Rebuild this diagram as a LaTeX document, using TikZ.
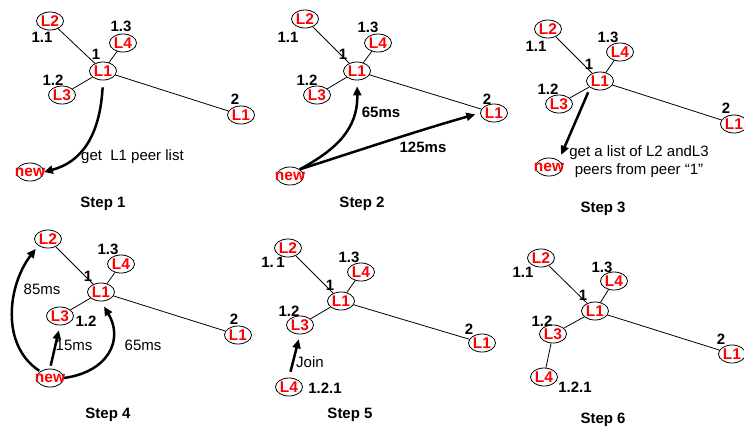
\documentclass[tikz,border=0pt]{standalone}
\usepackage{fontspec}
\setmainfont{Liberation Sans}
\usetikzlibrary{shapes.geometric,arrows.meta}
\tikzset{
  peertext/.style={text=red, font=\bfseries\fontsize{15.5}{15.5}\selectfont, inner sep=0pt},
  peer/.style={ellipse, draw, line width=0.8pt, minimum width=27pt, minimum height=18pt,
    inner sep=0pt, label={[peertext]center:#1}},
  lab/.style={font=\bfseries\fontsize{15}{15}\selectfont, inner sep=0pt},
  note/.style={font=\fontsize{15}{18}\selectfont, inner sep=0pt, align=center},
  steplabel/.style={font=\bfseries\fontsize{15}{15}\selectfont, inner sep=0pt},
  link/.style={line width=0.8pt},
  flow/.style={line width=2.5pt, -{Triangle[length=9pt,width=8pt]}},
}
\begin{document}
\begin{tikzpicture}[x=1pt,y=-1pt]
\useasboundingbox (0,0) rectangle (744,429);

% ---------- Step 1 ----------
\node[peer=L2] (a2) at (50,21) {};
\node[peer=L4] (a4) at (123,43) {};
\node[peer=L1] (a1) at (103,71) {};
\node[peer=L3] (a3) at (62,95) {};
\node[peer=L1] (ar) at (241,115) {};
\node[peer=new] (an) at (30,172) {};
\draw[link] (a2) -- (a1);
\draw[link] (a4) -- (a1);
\draw[link] (a3) -- (a1);
\draw[link] (a1) -- (ar);
\node[lab] (a11) at (42,37) {1.1};
\node[lab] (a13) at (121,26) {1.3};
\node[lab] (a1l) at (96,54) {1};
\node[lab] (a12) at (53,80) {1.2};
\node[lab] (a2l) at (235,99) {2};
\draw[flow, shorten <=7pt] (a1.south) .. controls (100,135) and (82,162) .. (an.east);
\node[note, anchor=west] (atx) at (81,157) {get\ \ L1 peer list};
\node[steplabel] (s1) at (103,204) {Step 1};

% ---------- Step 2 ----------
\node[peer=L2] (b2) at (305,19) {};
\node[peer=L4] (b4) at (378,43) {};
\node[peer=L1] (b1) at (357,71) {};
\node[peer=L3] (b3) at (317,95) {};
\node[peer=L1] (br) at (494,113) {};
\node[peer=new] (bn) at (290,176) {};
\draw[link] (b2) -- (b1);
\draw[link] (b4) -- (b1);
\draw[link] (b3) -- (b1);
\draw[link] (b1) -- (br);
\node[lab] (b11) at (288,37) {1.1};
\node[lab] (b13) at (368,27) {1.3};
\node[lab] (b1l) at (343,54) {1};
\node[lab] (b12) at (307,80) {1.2};
\node[lab] (b2l) at (487,99) {2};
\draw[flow, shorten >=6pt] (bn.north east) .. controls (335,150) and (358,130) .. (b1.south);
\draw[flow, shorten >=5pt] (bn.north east) .. controls (360,150) and (420,130) .. (br.west);
\node[lab] (b65) at (381,112) {65ms};
\node[lab] (b125) at (423,147) {125ms};
\node[steplabel] (s2) at (362,204) {Step 2};

% ---------- Step 3 ----------
\node[peer=L2] (c2) at (548,29) {};
\node[peer=L4] (c4) at (620,52) {};
\node[peer=L1] (c1) at (600,81) {};
\node[peer=L3] (c3) at (559,104) {};
\node[peer=L1] (cr) at (734,124) {};
\node[peer=new] (cn) at (549,167) {};
\draw[link] (c2) -- (c1);
\draw[link] (c4) -- (c1);
\draw[link] (c3) -- (c1);
\draw[link] (c1) -- (cr);
\node[lab] (c11) at (536,46) {1.1};
\node[lab] (c13) at (608,37) {1.3};
\node[lab] (c1l) at (589,64) {1};
\node[lab] (c12) at (548,89) {1.2};
\node[lab] (c2l) at (726,108) {2};
\draw[flow, shorten <=5pt, shorten >=6pt] (c1.south west) -- (cn.north east);
\node[note] (ctx) at (639,162) {get a list of L2 andL3\\peers from peer “1”};
\node[steplabel] (s3) at (603,209) {Step 3};

% ---------- Step 4 ----------
\node[peer=L2] (d2) at (48,239) {};
\node[peer=L4] (d4) at (121,264) {};
\node[peer=L1] (d1) at (101,292) {};
\node[peer=L3] (d3) at (60,316) {};
\node[peer=L1] (dr) at (238,335) {};
\node[peer=new] (dn) at (50,378) {};
\draw[link] (d2) -- (d1);
\draw[link] (d4) -- (d1);
\draw[link] (d3) -- (d1);
\draw[link] (d1) -- (dr);
\node[lab] (d13) at (108,249) {1.3};
\node[lab] (d1l) at (88,276) {1};
\node[lab] (d12) at (86,321) {1.2};
\node[lab] (d2l) at (234,319) {2};
\draw[flow, shorten <=1pt, shorten >=4pt] (dn.north west) .. controls (0,345) and (8,285) .. (d2.south west);
\draw[flow, shorten <=3pt, shorten >=5pt] (dn.north) -- (d3.south);
\draw[flow, shorten >=6pt] (dn.east) .. controls (108,372) and (124,340) .. (d1.south);
\node[note] (d85) at (42,289) {85ms};
\node[note] (d15) at (74,345) {15ms};
\node[note] (d65) at (143,345) {65ms};
\node[steplabel] (s4) at (108,415) {Step 4};

% ---------- Step 5 ----------
\node[peer=L2] (e2) at (288,248) {};
\node[peer=L4] (e4) at (361,272) {};
\node[peer=L1] (e1) at (341,301) {};
\node[peer=L3] (e3) at (300,325) {};
\node[peer=L1] (er) at (482,343) {};
\node[peer=L4] (en) at (289,387) {};
\draw[link] (e2) -- (e1);
\draw[link] (e4) -- (e1);
\draw[link] (e3) -- (e1);
\draw[link] (e1) -- (er);
\node[lab] (e11) at (273,262) {1.\,1};
\node[lab] (e13) at (349,257) {1.3};
\node[lab] (e1l) at (330,285) {1};
\node[lab] (e12) at (289,311) {1.2};
\node[lab] (e2l) at (469,329) {2};
\node[lab] (e121) at (325,388) {1.2.1};
\draw[flow, shorten <=6pt, shorten >=5pt] (en.north) -- (e3.south);
\node[note] (ejoin) at (310,362) {Join};
\node[steplabel] (s5) at (350,415) {Step 5};

% ---------- Step 6 ----------
\node[peer=L2] (f2) at (541,258) {};
\node[peer=L4] (f4) at (614,281) {};
\node[peer=L1] (f1) at (595,311) {};
\node[peer=L3] (f3) at (553,334) {};
\node[peer=L1] (fr) at (732,354) {};
\node[peer=L4] (f5) at (544,377) {};
\draw[link] (f2) -- (f1);
\draw[link] (f4) -- (f1);
\draw[link] (f3) -- (f1);
\draw[link] (f1) -- (fr);
\draw[link] (f3) -- (f5);
\node[lab] (f11) at (523,272) {1.1};
\node[lab] (f13) at (602,267) {1.3};
\node[lab] (f1l) at (583,295) {1};
\node[lab] (f12) at (542,321) {1.2};
\node[lab] (f2l) at (721,339) {2};
\node[lab] (f121) at (575,387) {1.2.1};
\node[steplabel] (s6) at (603,420) {Step 6};
\end{tikzpicture}
\end{document}
